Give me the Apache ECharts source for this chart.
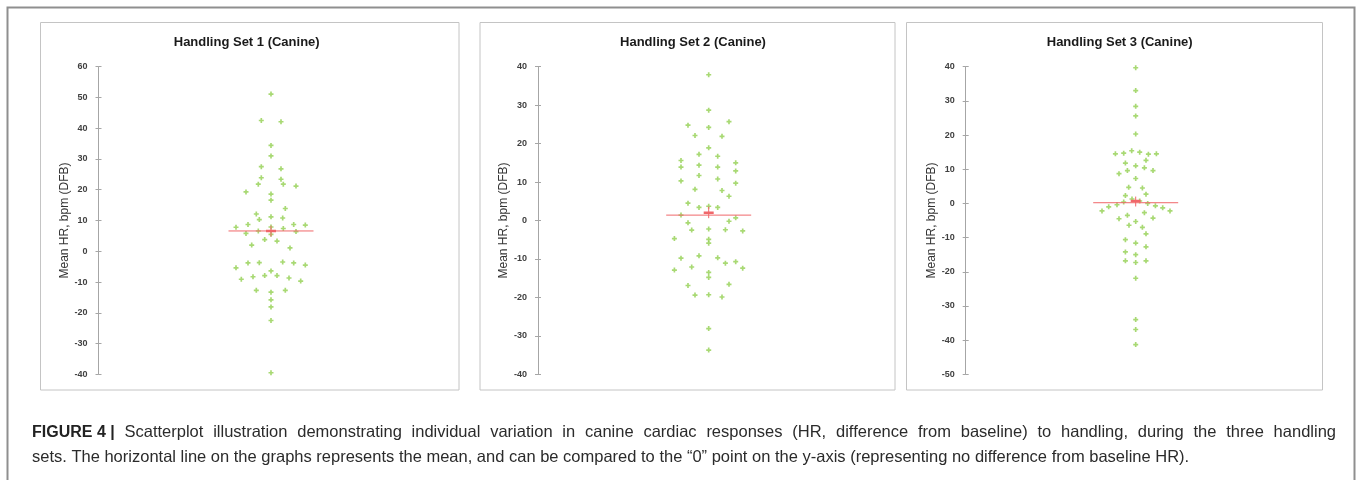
<!doctype html>
<html lang="en">
<head>
	<meta charset="UTF-8">
	<title>Handling Sets (Canine)</title>
	<script src="https://cdn.jsdelivr.net/npm/echarts@6/dist/echarts.min.js"></script>
	<style>
		html, body { margin: 0; padding: 0; background: #fff; }
		#main { width: 1357px; height: 480px; }
	</style>
</head>
<body>
	<div id="main"></div>
	<script type="text/javascript">
		// each point: [horizontal jitter, HR difference from baseline]
		var set1 = [[0, 51.1], [-9.7, 42.5], [10, 42.1], [0, 34.4], [0, 31.0], [-9.7, 27.5], [10, 26.8], [-9.7, 23.9], [10, 23.4],
			[-12.7, 21.8], [12.3, 21.8], [25, 21.2], [-25, 19.3], [0, 18.6], [0, 16.6], [14.3, 13.9], [-14.7, 12.1], [-11.7, 10.3],
			[0, 11.2], [11.7, 10.8], [-35, 7.8], [-23, 8.7], [22.7, 8.7], [34.3, 8.5], [12.3, 7.4], [-12.7, 6.6], [25, 6.4],
			[-25, 5.8], [0, 7.9], [0, 5.5], [-6.3, 3.8], [6, 3.3], [-19.3, 2.0], [19, 1.1], [-35, -5.4], [-23, -3.8], [-11.7, -3.7],
			[11.7, -3.5], [22.7, -3.8], [34.3, -4.5], [-29.7, -9.1], [-18, -8.3], [-6.3, -7.9], [0, -6.4], [6, -7.9], [18, -8.7],
			[29.7, -9.7], [-14.7, -12.7], [14.3, -12.7], [0, -13.3], [0, -15.8], [0, -18.1], [0, -22.5], [0, -39.5]];
		var set2 = [[0, 37.9], [0, 28.7], [-20.7, 24.8], [20.3, 25.7], [0, 24.2], [-13.7, 22.1], [13.3, 21.9], [0, 18.9], [-9.7, 17.2],
			[9, 16.7], [-27.7, 15.6], [27, 15.0], [-27.7, 13.9], [-9.7, 14.4], [9, 13.9], [27, 12.9], [-9.7, 11.7], [-27.7, 10.3],
			[9, 10.8], [27, 9.7], [-13.7, 8.1], [13.3, 7.8], [20.3, 6.3], [-20.7, 4.5], [-9.7, 3.4], [0, 3.7], [9, 3.4], [-27.7, 1.4],
			[27, 0.7], [-20.7, -0.6], [20.3, -0.2], [-17, -2.5], [0, -2.2], [16.7, -2.4], [34, -2.7], [-34.3, -4.7], [0, -4.9],
			[0, -5.9], [-9.7, -9.2], [-27.7, -9.8], [9, -9.7], [16.7, -11.1], [27, -10.7], [-34.3, -12.9], [-17, -12.1], [34, -12.4],
			[0, -13.5], [0, -14.8], [-20.7, -16.9], [20.3, -16.6], [-13.7, -19.4], [0, -19.3], [13.3, -19.9], [0, -28.1], [0, -33.7]];
		var set3 = [[0, 39.7], [0, 33.0], [0, 28.4], [0, 25.6], [0, 20.3], [-4, 15.4], [-12, 14.7], [4, 15.0], [-20.3, 14.5],
			[12.7, 14.4], [20.7, 14.5], [-10.3, 11.8], [10.3, 12.6], [0, 11.0], [-16.7, 8.7], [-8.3, 9.6], [8.7, 10.4], [17.3, 9.6],
			[0, 7.3], [-7, 4.7], [6.7, 4.5], [-10.3, 2.3], [10.3, 2.7], [-3.7, 1.3], [4, 0.7], [-12, 0.4], [-18.7, -0.4], [12, 0.0],
			[-27, -1.0], [19.7, -0.7], [-33.7, -2.2], [27, -1.3], [34.3, -2.2], [-16.7, -4.5], [-8.3, -3.5], [8.7, -2.7], [17.3, -4.3],
			[-6.7, -6.4], [0, -5.3], [6.7, -7.0], [10.3, -8.9], [-10.3, -10.6], [0, -11.6], [10.3, -12.7], [-10.3, -14.2], [0, -15.0],
			[-10.3, -16.8], [0, -17.3], [10.3, -16.8], [0, -21.9], [0, -34.0], [0, -36.9], [0, -41.3]];

		var sets = [set1, set2, set3];
		var titles = ['Handling Set 1 (Canine)', 'Handling Set 2 (Canine)', 'Handling Set 3 (Canine)'];
		var means = [6.6, 1.4, 0.2];
		// mean marker: [centre, error bar low, error bar high]
		var crosses = [[6.6, 4.8, 8.3], [2.0, 0.6, 3.6], [0.7, -0.9, 2.0]];
		var yMin = [-40, -40, -50];
		var yMax = [60, 40, 40];
		var meanHalf = 42.5;   // half length of the mean line, jitter units
		var armHalf = 5;

		var captionLead = 'FIGURE 4 |';
		var caption1 = 'Scatterplot illustration demonstrating individual variation in canine cardiac responses (HR, difference from baseline) to handling, during the three handling';
		var caption2 = 'sets. The horizontal line on the graphs represents the mean, and can be compared to the \u201c0\u201d point on the y-axis (representing no difference from baseline HR).';

		// layout of the three panels
		var axisX = [98.5, 538, 965.7];
		var dotX = [271, 708.7, 1135.7];
		var titleX = [241.7, 688, 1114.7];
		var frames = [[40.5, 459], [480, 895], [906.5, 1322.5]];

		var green = '#92d050';
		var red = '#f0676a';
		var axisGray = '#a6a6a6';
		var dot = 'path://M1,0H2V1H3V2H2V3H1V2H0V1H1Z';

		var grid = [], xAxis = [], yAxis = [], series = [], title = [], graphic = [];

		for (var i = 0; i < 3; i++) {
			var half = dotX[i] - axisX[i];
			grid.push({ left: axisX[i], top: 66.7, width: half * 2, height: 307.6 });
			xAxis.push({ type: 'value', gridIndex: i, min: -half, max: half, show: false });
			yAxis.push({
				type: 'value', gridIndex: i, position: 'left', min: yMin[i], max: yMax[i], interval: 10,
				splitLine: { show: false },
				axisLine: { show: true, onZero: false, lineStyle: { color: axisGray, width: 1 } },
				axisTick: { show: true, length: 3, lineStyle: { color: axisGray } },
				axisLabel: { margin: 11, color: '#404040', fontSize: 9, fontFamily: 'Liberation Sans', fontWeight: 'bold' },
				name: 'Mean HR, bpm (DFB)', nameLocation: 'middle', nameGap: 21,
				nameTextStyle: { color: '#333', fontSize: 12, fontFamily: 'Liberation Sans' }
			});
			// second axis only for the inner half of the cross ticks
			yAxis.push({
				type: 'value', gridIndex: i, position: 'left', min: yMin[i], max: yMax[i], interval: 10,
				splitLine: { show: false }, axisLine: { show: false, onZero: false }, axisLabel: { show: false },
				axisTick: { show: true, inside: true, length: 3, lineStyle: { color: axisGray } }
			});
			series.push({
				type: 'scatter', xAxisIndex: i, yAxisIndex: i * 2, data: sets[i],
				symbol: dot, symbolSize: 5, itemStyle: { color: green }, z: 2
			});
			series.push({
				type: 'line', xAxisIndex: i, yAxisIndex: i * 2, data: [[-meanHalf, means[i]], [meanHalf, means[i]]],
				symbol: 'none', lineStyle: { color: red, width: 1 }, z: 3
			});
			series.push({
				type: 'line', xAxisIndex: i, yAxisIndex: i * 2, data: [[0, crosses[i][1]], [0, crosses[i][2]]],
				symbol: 'none', lineStyle: { color: red, width: 1 }, z: 3
			});
			series.push({
				type: 'line', xAxisIndex: i, yAxisIndex: i * 2, data: [[-armHalf, crosses[i][0]], [armHalf, crosses[i][0]]],
				symbol: 'none', lineStyle: { color: red, width: 2.5 }, z: 3
			});
			title.push({
				text: titles[i], left: titleX[i], top: 31, textAlign: 'center',
				textStyle: { fontSize: 13, fontWeight: 'bold', color: '#1a1a1a', fontFamily: 'Liberation Sans' }
			});
			graphic.push({
				type: 'rect', silent: true,
				shape: { x: frames[i][0], y: 22.5, width: frames[i][1] - frames[i][0], height: 367.5 },
				style: { fill: 'none', stroke: '#c4c4c4', lineWidth: 1 }
			});
		}

		// outer frame of the figure, open at the bottom edge
		graphic.push({
			type: 'polyline', silent: true,
			shape: { points: [[7.5, 482], [7.5, 7.5], [1354.5, 7.5], [1354.5, 482]] },
			style: { fill: 'none', stroke: '#8f8f8f', lineWidth: 2 }
		});

		// caption: first line justified between the margins, second line left aligned
		var capLeft = 32, capRight = 1336, capTop = 420;
		var boldFont = 'bold 16px "Liberation Sans"';
		var regFont = '16.5px "Liberation Sans"';
		var ctx = document.createElement('canvas').getContext('2d');
		var words = [{ t: captionLead, f: boldFont }]
			.concat(caption1.split(' ').map(function (w) { return { t: w, f: regFont }; }));
		var total = 0;
		words.forEach(function (w) { ctx.font = w.f; w.w = ctx.measureText(w.t).width; total += w.w; });
		var gap = (capRight - capLeft - total) / (words.length - 1);
		var cx = capLeft;
		words.forEach(function (w) {
			graphic.push({
				type: 'text', silent: true, x: cx, y: capTop,
				style: { text: w.t, font: w.f, fill: w.f === boldFont ? '#222' : '#2b2b2b', textVerticalAlign: 'top', lineHeight: 25 }
			});
			cx += w.w + gap;
		});
		graphic.push({
			type: 'text', silent: true, x: capLeft, y: capTop + 25,
			style: { text: caption2, font: regFont, fill: '#2b2b2b', textVerticalAlign: 'top', lineHeight: 25 }
		});

		var myChart = echarts.init(document.getElementById('main'));
		myChart.setOption({
			animation: false,
			title: title,
			grid: grid,
			xAxis: xAxis,
			yAxis: yAxis,
			series: series,
			graphic: graphic
		});
	</script>
</body>
</html>
